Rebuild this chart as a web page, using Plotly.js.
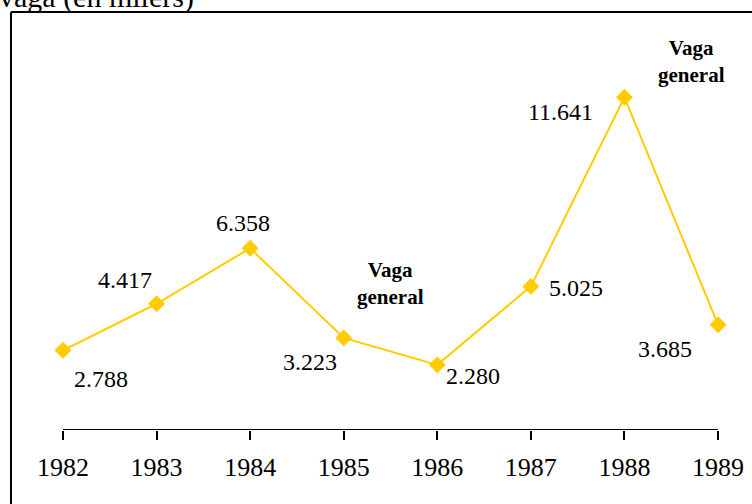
<!DOCTYPE html>
<html>
<head>
<meta charset="utf-8">
<script src="https://cdn.plot.ly/plotly-3.0.1.min.js"></script>
<style>html,body{margin:0;padding:0;background:#fff;}</style>
</head>
<body>
<div id="chart" style="width:752px;height:504px;"></div>
<script>
const years = [1982, 1983, 1984, 1985, 1986, 1987, 1988, 1989];
const values = [2.788, 4.417, 6.358, 3.223, 2.280, 5.025, 11.641, 3.685];
const valueLabels = ["2.788", "4.417", "6.358", "3.223", "2.280", "5.025", "11.641", "3.685"];
const labelShiftX = [38, -32, -7, -34, 36, 45, -64, -53];
const labelShiftY = [-29, 24, 25, -24, -11, -2, -15, -24];
const titleText = "vaga (en milers)";
const noteText = "Vaga<br>general";
const noteYears = [1985.495, 1988.72];
const noteValues = [5.14, 12.88];

const W = 752, H = 504;
const serif = "Liberation Serif, Times New Roman, serif";

const annotations = years.map((yr, i) => ({
  x: yr, y: values[i], xref: 'x', yref: 'y',
  text: valueLabels[i], showarrow: false,
  xshift: labelShiftX[i], yshift: labelShiftY[i],
  font: {family: serif, size: 24, color: '#000'}
}));
noteYears.forEach((nx, i) => annotations.push({
  x: nx, y: noteValues[i], xref: 'x', yref: 'y',
  text: '<b>' + noteText + '</b>', showarrow: false,
  font: {family: serif, size: 21, color: '#000'}
}));
annotations.push({
  x: 0, y: 1 + 3 / H, xref: 'paper', yref: 'paper',
  xanchor: 'left', yanchor: 'middle', text: titleText, showarrow: false,
  xshift: -3,
  font: {family: serif, size: 30, color: '#000'}
});

const trace = {
  x: years, y: values, type: 'scatter', mode: 'lines+markers',
  line: {color: '#FFCC00', width: 2},
  marker: {symbol: 'diamond', size: 13, color: '#FFCC00'},
  cliponaxis: false, hoverinfo: 'skip'
};

const fx = 11 / W, fy = 1 - 12 / H;
const layout = {
  width: W, height: H,
  margin: {l: 0, r: 0, t: 0, b: 0},
  paper_bgcolor: '#fff', plot_bgcolor: 'rgba(0,0,0,0)',
  showlegend: false,
  xaxis: {
    range: [1981.327, 1989.363], tickvals: years, ticktext: years.map(String),
    ticks: 'outside', ticklen: 9, tickwidth: 2, tickcolor: '#000',
    showline: false, showgrid: false, zeroline: false,
    tickfont: {family: serif, size: 26, color: '#000'}, ticklabelstandoff: 5
  },
  yaxis: {
    domain: [74 / H, 1], range: [0, 15.045], visible: false, showgrid: false, zeroline: false
  },
  shapes: [
    {type: 'line', xref: 'x', yref: 'y', x0: years[0], x1: years[years.length - 1], y0: 0, y1: 0, line: {color: '#000', width: 2}},
    {type: 'line', xref: 'paper', yref: 'paper', x0: fx, x1: fx, y0: -0.05, y1: fy, line: {color: '#000', width: 2}},
    {type: 'line', xref: 'paper', yref: 'paper', x0: fx, x1: 1.05, y0: fy, y1: fy, line: {color: '#000', width: 2}}
  ],
  annotations: annotations
};

Plotly.newPlot('chart', [trace], layout, {displayModeBar: false, staticPlot: true});
</script>
</body>
</html>
